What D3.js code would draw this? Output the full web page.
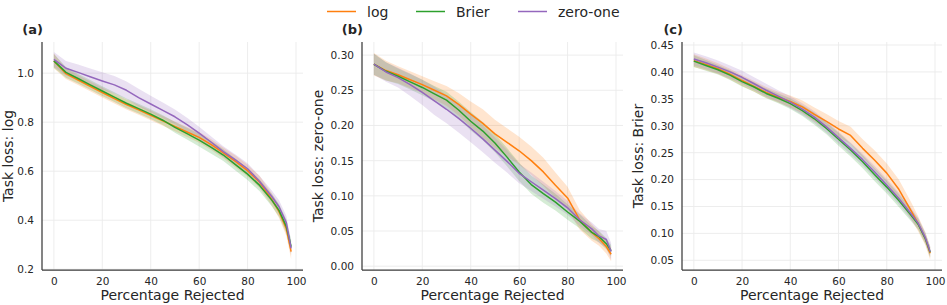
<!DOCTYPE html>
<html>
<head>
<meta charset="utf-8">
<script src="https://cdn.jsdelivr.net/npm/d3@7"></script>
<style>
  html, body { margin: 0; padding: 0; background: #fff; }
  svg { display: block; font-family: "DejaVu Sans", sans-serif; }
</style>
</head>
<body>
<svg id="chart" width="947" height="305"></svg>
<script>
// ---------------- data ----------------
const pctRejected = [0, 5, 10, 15, 20, 25, 30, 35, 40, 45, 50, 55, 60, 65, 70, 75, 80, 85, 90, 93, 96, 98];
const seriesNames = ["log", "Brier", "zero-one"];
const xTicks = [0, 20, 40, 60, 80, 100];
const panelLabels = ["(a)", "(b)", "(c)"];
const yLabels = ["Task loss: log", "Task loss: zero-one", "Task loss: Brier"];
const yTicksA = [0.2, 0.4, 0.6, 0.8, 1.0];
const yTicksB = [0.00, 0.05, 0.10, 0.15, 0.20, 0.25, 0.30];
const yTicksC = [0.05, 0.10, 0.15, 0.20, 0.25, 0.30, 0.35, 0.40, 0.45];

// panel (a): task loss log
const aLog     = [1.050, 0.998, 0.972, 0.946, 0.921, 0.896, 0.872, 0.850, 0.828, 0.805, 0.783, 0.760, 0.738, 0.708, 0.675, 0.640, 0.602, 0.555, 0.485, 0.435, 0.365, 0.272];
const aBrier   = [1.050, 1.003, 0.978, 0.952, 0.927, 0.902, 0.877, 0.855, 0.833, 0.808, 0.779, 0.753, 0.727, 0.697, 0.666, 0.627, 0.588, 0.542, 0.482, 0.440, 0.375, 0.292];
const aZeroOne = [1.056, 1.020, 1.003, 0.985, 0.968, 0.952, 0.930, 0.900, 0.874, 0.848, 0.822, 0.790, 0.755, 0.718, 0.680, 0.646, 0.610, 0.558, 0.497, 0.455, 0.390, 0.285];
const aLogSpread     = [.030, .022, .020, .020, .020, .020, .020, .020, .020, .020, .020, .020, .022, .022, .022, .024, .024, .025, .025, .026, .028, .030];
const aBrierSpread   = [.028, .022, .020, .020, .020, .020, .020, .020, .020, .020, .022, .024, .026, .026, .024, .024, .024, .024, .025, .026, .028, .028];
const aZeroOneSpread = [.030, .030, .032, .034, .036, .036, .036, .036, .034, .032, .030, .028, .026, .024, .022, .022, .022, .022, .024, .026, .028, .028];

// panel (b): task loss zero-one
const bLog     = [.287, .278, .272, .265, .258, .250, .242, .230, .216, .203, .188, .176, .164, .150, .134, .115, .097, .066, .048, .039, .028, .017];
const bBrier   = [.287, .277, .270, .262, .254, .245, .236, .222, .206, .192, .175, .155, .134, .116, .103, .091, .077, .064, .048, .042, .032, .022];
const bZeroOne = [.287, .276, .268, .258, .247, .235, .223, .210, .196, .181, .165, .149, .132, .120, .108, .096, .083, .066, .053, .043, .038, .021];
const bLogSpread     = [.016, .014, .012, .012, .012, .013, .014, .016, .018, .020, .020, .020, .020, .020, .020, .018, .016, .014, .012, .010, .010, .010];
const bBrierSpread   = [.015, .013, .011, .011, .011, .011, .012, .012, .013, .013, .013, .013, .013, .013, .013, .012, .011, .010, .009, .008, .008, .008];
const bZeroOneSpread = [.015, .014, .014, .016, .018, .020, .020, .020, .020, .019, .018, .016, .014, .013, .012, .011, .010, .009, .009, .010, .012, .012];

// panel (c): task loss Brier
const cLog     = [.421, .414, .406, .396, .384, .373, .362, .353, .345, .335, .321, .308, .294, .282, .258, .236, .212, .182, .143, .118, .090, .063];
const cBrier   = [.420, .412, .404, .394, .382, .372, .360, .351, .341, .328, .313, .295, .275, .255, .233, .209, .186, .161, .134, .117, .090, .065];
const cZeroOne = [.424, .417, .409, .400, .390, .378, .366, .355, .344, .331, .316, .298, .278, .258, .237, .214, .190, .165, .137, .119, .092, .066];
const cLogSpread     = [.012, .011, .010, .010, .010, .010, .010, .010, .011, .012, .013, .014, .015, .016, .017, .018, .018, .018, .016, .014, .012, .012];
const cBrierSpread   = [.011, .010, .009, .009, .009, .009, .009, .009, .010, .010, .011, .011, .012, .012, .012, .012, .012, .012, .011, .010, .010, .010];
const cZeroOneSpread = [.012, .012, .012, .012, .012, .012, .012, .011, .011, .011, .011, .011, .011, .011, .011, .011, .011, .011, .011, .010, .010, .010];

// ---------------- layout / style ----------------
const colors = ["#ff7f0e", "#2ca02c", "#9467bd"];
const textColor = "#262626";
const plotTop = 42, plotBottom = 270;

const panels = [
  { left: 42,  right: 303, yDomain: [0.197, 1.127], yTicks: yTicksA, fmt: d3.format(".1f"),
    means: [aLog, aBrier, aZeroOne], spreads: [aLogSpread, aBrierSpread, aZeroOneSpread], yLabelX: 12.5 },
  { left: 362, right: 623, yDomain: [-0.0054, 0.3186], yTicks: yTicksB, fmt: d3.format(".2f"),
    means: [bLog, bBrier, bZeroOne], spreads: [bLogSpread, bBrierSpread, bZeroOneSpread], yLabelX: 323 },
  { left: 682, right: 942, yDomain: [0.032, 0.4556], yTicks: yTicksC, fmt: d3.format(".2f"),
    means: [cLog, cBrier, cZeroOne], spreads: [cLogSpread, cBrierSpread, cZeroOneSpread], yLabelX: 643 }
];

const svg = d3.select("#chart");

panels.forEach((p, pi) => {
  const x = d3.scaleLinear().domain([-4.9, 102.9]).range([p.left, p.right]);
  const y = d3.scaleLinear().domain(p.yDomain).range([plotBottom, plotTop]);
  const g = svg.append("g");

  // grid
  g.append("g").selectAll("line.v").data(xTicks).join("line")
    .attr("x1", d => x(d)).attr("x2", d => x(d))
    .attr("y1", plotTop).attr("y2", plotBottom)
    .attr("stroke", "#ebebeb").attr("stroke-width", 0.9);
  g.append("g").selectAll("line.h").data(p.yTicks).join("line")
    .attr("x1", p.left).attr("x2", p.right)
    .attr("y1", d => y(d)).attr("y2", d => y(d))
    .attr("stroke", "#ebebeb").attr("stroke-width", 0.9);

  // bands
  p.means.forEach((m, si) => {
    const pts = pctRejected.map((xv, i) => ({ x: xv, lo: m[i] - p.spreads[si][i], hi: m[i] + p.spreads[si][i] }));
    const area = d3.area().x(d => x(d.x)).y0(d => y(d.lo)).y1(d => y(d.hi));
    g.append("path").attr("d", area(pts))
      .attr("fill", colors[si]).attr("fill-opacity", 0.2).attr("stroke", "none");
  });
  // lines
  p.means.forEach((m, si) => {
    const pts = pctRejected.map((xv, i) => ({ x: xv, y: m[i] }));
    const line = d3.line().x(d => x(d.x)).y(d => y(d.y));
    g.append("path").attr("d", line(pts))
      .attr("fill", "none").attr("stroke", colors[si]).attr("stroke-width", 1.5)
      .attr("stroke-linejoin", "round");
  });

  // axes
  const xAxis = d3.axisBottom(x).tickValues(xTicks).tickSize(0).tickPadding(8).tickFormat(d3.format("d"));
  const gx = g.append("g").attr("transform", `translate(0,${plotBottom})`).call(xAxis);
  const yAxis = d3.axisLeft(y).tickValues(p.yTicks).tickSize(0).tickPadding(8).tickFormat(p.fmt);
  const gy = g.append("g").attr("transform", `translate(${p.left},0)`).call(yAxis);
  [gx, gy].forEach(a => {
    a.select(".domain").attr("stroke", "#3a3a3a").attr("stroke-width", 1.25);
    a.selectAll("text").attr("fill", textColor).attr("font-size", "10.5px")
      .attr("font-family", "DejaVu Sans, sans-serif");
  });
  gy.select(".domain").attr("d", `M0,${plotTop}V${plotBottom}`);
  gx.select(".domain").attr("d", `M${p.left},0H${p.right}`);

  // axis labels
  g.append("text").attr("x", (p.left + p.right) / 2).attr("y", 300)
    .attr("text-anchor", "middle").attr("font-size", "14px").attr("fill", textColor)
    .text("Percentage Rejected");
  g.append("text")
    .attr("transform", `translate(${p.yLabelX},${(plotTop + plotBottom) / 2}) rotate(-90)`)
    .attr("text-anchor", "middle").attr("font-size", "14px").attr("fill", textColor)
    .text(yLabels[pi]);

  // panel label
  g.append("text").attr("x", p.left + 1).attr("y", 34)
    .attr("text-anchor", "end").attr("font-size", "13px").attr("font-weight", "bold")
    .attr("fill", textColor).text(panelLabels[pi]);
});

// legend
const legendX = [327, 416, 518];
const leg = svg.append("g");
seriesNames.forEach((name, i) => {
  leg.append("line").attr("x1", legendX[i]).attr("x2", legendX[i] + 29)
    .attr("y1", 11.5).attr("y2", 11.5).attr("stroke", colors[i]).attr("stroke-width", 1.5);
  leg.append("text").attr("x", legendX[i] + 40).attr("y", 16.5)
    .attr("font-size", "14px").attr("fill", textColor).text(name);
});
</script>
</body>
</html>
